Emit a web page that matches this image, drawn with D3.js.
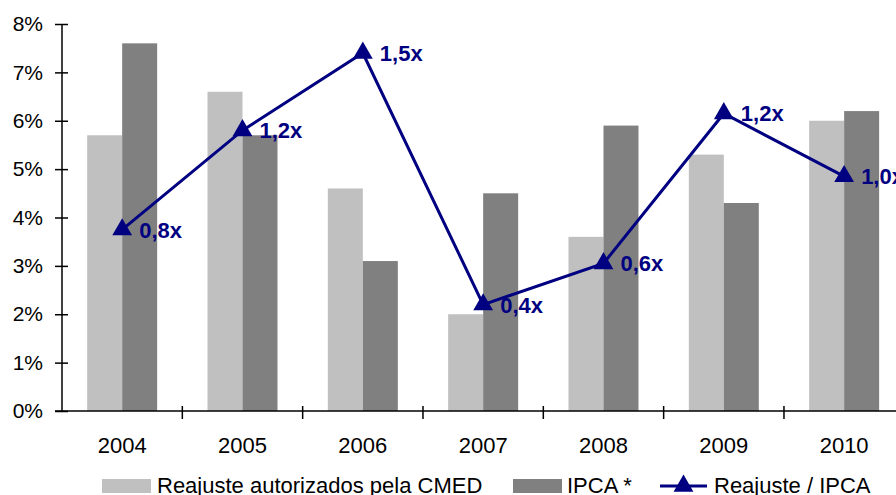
<!DOCTYPE html>
<html>
<head>
<meta charset="utf-8">
<script src="https://cdn.jsdelivr.net/npm/d3@7"></script>
<style>
  html, body { margin: 0; padding: 0; background: #fff; overflow: hidden; }
  svg { display: block; font-family: "Liberation Sans", Arial, sans-serif; }
</style>
</head>
<body>
<svg id="chart" width="896" height="495"></svg>
<script>
const years = ["2004", "2005", "2006", "2007", "2008", "2009", "2010"];
const reajusteCMED = [5.7, 6.6, 4.6, 2.0, 3.6, 5.3, 6.0];
const ipca = [7.6, 5.7, 3.1, 4.5, 5.9, 4.3, 6.2];
const ratio = [0.75, 1.16, 1.48, 0.44, 0.61, 1.23, 0.97];
const yTicks = [0, 1, 2, 3, 4, 5, 6, 7, 8];
const seriesNames = ["Reajuste autorizados pela CMED", "IPCA *", "Reajuste / IPCA"];

const colors = { light: "#C0C0C0", dark: "#808080", line: "#000080" };

const svg = d3.select("#chart");
const x0 = 62, x1 = 904.3, yTop = 24, yBottom = 411;

const x = d3.scaleBand().domain(years).range([x0, x1])
  .paddingInner(0.4183).paddingOuter(0.4183 / 2);
const xSub = d3.scaleBand().domain(["cmed", "ipca"]).range([0, x.bandwidth()]);
const y = d3.scaleLinear().domain([0, 8]).range([yBottom, yTop]);
const y2 = d3.scaleLinear().domain([0, 1.6]).range([yBottom, yTop]);

// bars
const groups = svg.append("g").selectAll("g").data(years).join("g")
  .attr("transform", d => `translate(${x(d)},0)`);
groups.append("rect")
  .attr("x", xSub("cmed")).attr("width", xSub.bandwidth())
  .attr("y", (d, i) => y(reajusteCMED[i]))
  .attr("height", (d, i) => yBottom - y(reajusteCMED[i]))
  .attr("fill", colors.light);
groups.append("rect")
  .attr("x", xSub("ipca")).attr("width", xSub.bandwidth())
  .attr("y", (d, i) => y(ipca[i]))
  .attr("height", (d, i) => yBottom - y(ipca[i]))
  .attr("fill", colors.dark);

// y axis
const yAxis = svg.append("g").attr("transform", `translate(${x0},0)`)
  .call(d3.axisLeft(y).tickValues(yTicks).tickFormat(d => d + "%").tickSize(7).tickPadding(12));
yAxis.select(".domain").attr("stroke", "#000").attr("stroke-width", 1.5)
  .attr("d", `M0,${yTop}V${yBottom}`);
yAxis.selectAll(".tick line").attr("stroke", "#000").attr("stroke-width", 1.5).attr("x1", 6).attr("x2", -7);
yAxis.selectAll(".tick text").attr("font-size", 21).attr("fill", "#000")
  .attr("font-family", "Liberation Sans, Arial, sans-serif");

// x axis
const xAxis = svg.append("g").attr("transform", `translate(0,${yBottom})`);
xAxis.append("line").attr("x1", x0 - 7).attr("x2", 910).attr("y1", 0).attr("y2", 0)
  .attr("stroke", "#000").attr("stroke-width", 1.5);
const boundaries = years.map(d => x(d) - x.step() * x.paddingInner() / 2).concat([x1]);
xAxis.selectAll(".xt").data(boundaries.slice(1)).join("line").attr("class", "xt")
  .attr("x1", d => d).attr("x2", d => d).attr("y1", -5).attr("y2", 8)
  .attr("stroke", "#000").attr("stroke-width", 1.5);
xAxis.selectAll(".xl").data(years).join("text").attr("class", "xl")
  .attr("x", d => x(d) + x.bandwidth() / 2).attr("y", 42)
  .attr("text-anchor", "middle").attr("font-size", 22).attr("fill", "#000")
  .text(d => d);

// ratio line
const pts = years.map((d, i) => [x(d) + x.bandwidth() / 2, y2(ratio[i])]);
svg.append("path").attr("d", d3.line()(pts))
  .attr("fill", "none").attr("stroke", colors.line).attr("stroke-width", 3);
const tri = d3.symbol().type(d3.symbolTriangle).size(170);
svg.selectAll(".mk").data(pts).join("path").attr("class", "mk")
  .attr("transform", d => `translate(${d[0]},${d[1]})`)
  .attr("d", tri).attr("fill", colors.line);
const fmt = d3.format(".1f");
svg.selectAll(".lbl").data(pts).join("text").attr("class", "lbl")
  .attr("x", d => d[0] + 17).attr("y", d => d[1] + 8)
  .attr("font-size", 22).attr("font-weight", "bold").attr("fill", colors.line)
  .text((d, i) => fmt(ratio[i]).replace(".", ",") + "x");

// legend
const leg = svg.append("g");
const legY = 486;
leg.append("rect").attr("x", 102).attr("y", legY - 7).attr("width", 49).attr("height", 14).attr("fill", colors.light);
leg.append("text").attr("x", 157).attr("y", legY + 7).attr("font-size", 22).text(seriesNames[0]);
leg.append("rect").attr("x", 513).attr("y", legY - 7).attr("width", 49).attr("height", 14).attr("fill", colors.dark);
leg.append("text").attr("x", 567).attr("y", legY + 7).attr("font-size", 22).text(seriesNames[1]);
leg.append("line").attr("x1", 660).attr("x2", 707).attr("y1", legY).attr("y2", legY)
  .attr("stroke", colors.line).attr("stroke-width", 3);
leg.append("path").attr("transform", `translate(683.5,${legY})`).attr("d", tri).attr("fill", colors.line);
leg.append("text").attr("x", 714).attr("y", legY + 7).attr("font-size", 22).text(seriesNames[2]);
</script>
</body>
</html>
